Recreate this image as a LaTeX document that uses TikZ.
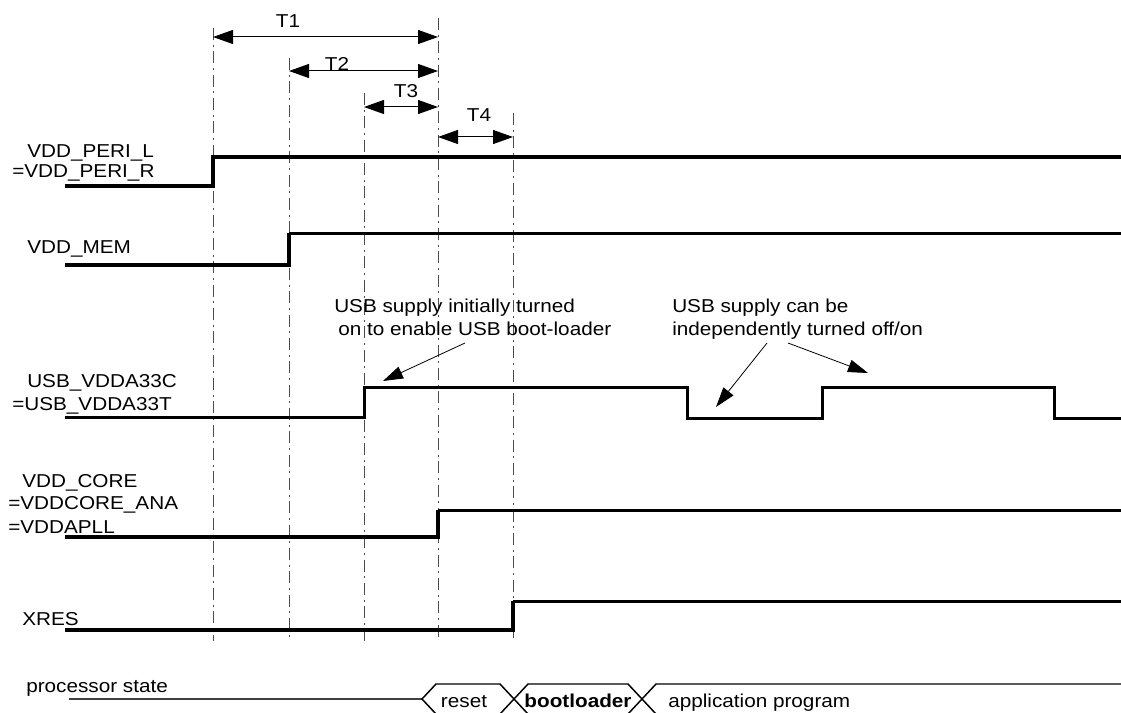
\documentclass[tikz,border=0pt]{standalone}
\usepackage{fontspec}
\setmainfont{Liberation Sans}[FakeStretch=1.11]
\usetikzlibrary{arrows.meta}
\newcommand\lblfont{\fontsize{14pt}{16pt}\selectfont}
\begin{document}
\begin{tikzpicture}[x=0.75pt,y=-0.75pt,
  lbl/.style={inner sep=0pt,anchor=base west,font=\lblfont},
  lblc/.style={inner sep=0pt,anchor=base,font=\lblfont},
  tline/.style={draw=black!70,line width=0.75pt,dash pattern=on 9pt off 3.5pt on 1.5pt off 3.5pt},
  dimarrow/.style={line width=0.75pt,{Triangle[length=15pt,width=10.5pt]}-{Triangle[length=15pt,width=10.5pt]}},
  notearrow/.style={line width=0.6pt,-{Triangle[length=15pt,width=9.5pt]}},
  sigthick/.style={line width=3pt,line join=miter},
  sigthin/.style={line width=2.25pt,line join=miter},
  statebar/.style={line width=1.1pt},
]
\useasboundingbox (0,0) rectangle (1121,713);
\clip (0,0) rectangle (1121,713);
\fill[white] (0,0) rectangle (1121,713);

% time marks
\coordinate (a0) at (213,28);  \coordinate (a1) at (213,641);
\coordinate (b0) at (289,58);  \coordinate (b1) at (289,641);
\coordinate (c0) at (364,93);  \coordinate (c1) at (364,641);
\coordinate (d0) at (438,18);  \coordinate (d1) at (438,641);
\coordinate (e0) at (513,113); \coordinate (e1) at (513,641);
\foreach \p in {a,b,c,d,e} \draw[tline] (\p0) -- (\p1);

% dimension arrows
\coordinate (t1l) at (213,37); \coordinate (t1r) at (438,37);
\coordinate (t2l) at (289,71); \coordinate (t2r) at (438,71);
\coordinate (t3l) at (364,107); \coordinate (t3r) at (438,107);
\coordinate (t4l) at (438,137); \coordinate (t4r) at (513,137);
\draw[dimarrow] (t1l) -- (t1r);
\draw[dimarrow] (t2l) -- (t2r);
\draw[dimarrow] (t3l) -- (t3r);
\draw[dimarrow] (t4l) -- (t4r);
\node[lblc] (T1) at (288,28) {T1};
\node[lblc] (T2) at (337,71) {T2};
\node[lblc] (T3) at (406,98) {T3};
\node[lblc] (T4) at (479,122) {T4};

% signal labels
\node[lbl] (l1a) at (27,158) {VDD\_PERI\_L};
\node[lbl] (l1b) at (12,178) {=VDD\_PERI\_R};
\node[lbl] (l2) at (27,253) {VDD\_MEM};
\node[lbl] (l3a) at (27,387) {USB\_VDDA33C};
\node[lbl] (l3b) at (12,410) {=USB\_VDDA33T};
\node[lbl] (l4a) at (22,487) {VDD\_CORE};
\node[lbl] (l4b) at (8,509) {=VDDCORE\_ANA};
\node[lbl] (l4c) at (8,533) {=VDDAPLL};
\node[lbl] (l5) at (22,625) {XRES};
\node[lbl] (l6) at (26,692) {processor state};

% signals
\draw[sigthick] (65,186) -- (213,186) -- (213,157) -- (1125,157);
\draw[sigthick] (65,265) -- (289,265) -- (289,233);
\draw[sigthin] (289,233) -- (1125,233);
\draw[sigthin] (65,417) -- (364,417) -- (364,387) -- (687,387) -- (687,418) -- (822,418) -- (822,387) -- (1054,387) -- (1054,418) -- (1125,418);
\draw[sigthick] (65,537) -- (438,537) -- (438,510);
\draw[sigthin] (438,510) -- (1125,510);
\draw[sigthick] (65,630) -- (513,630) -- (513,601);
\draw[sigthin] (513,601) -- (1125,601);

% annotations
\node[lbl] (n1a) at (334,312) {USB supply initially turned};
\node[lbl] (n1b) at (338,335) {on to enable USB boot-loader};
\node[lbl] (n2a) at (672,312) {USB supply can be};
\node[lbl] (n2b) at (672,335) {independently turned off/on};
\coordinate (n1s) at (465,343); \coordinate (n1t) at (383,381);
\coordinate (n2s) at (767,343); \coordinate (n2t) at (716,407);
\coordinate (n3s) at (788,343); \coordinate (n3t) at (868,373);
\draw[notearrow] (n1s) -- (n1t);
\draw[notearrow] (n2s) -- (n2t);
\draw[notearrow] (n3s) -- (n3t);

% processor state bar
\coordinate (ps0) at (69,699);
\coordinate (ps1) at (422,699);
\draw[line width=0.9pt,draw=black!75] (ps0) -- (ps1);
\draw[statebar] (436,714) -- (ps1) -- (436,684) -- (500,684) -- (528,714);
\draw[statebar] (500,714) -- (528,684) -- (628,684) -- (656,714);
\draw[statebar] (628,714) -- (656,684) -- (1125,684);
\draw[statebar] (436,714) -- (500,714);
\draw[statebar] (528,714) -- (628,714);
\draw[statebar] (656,714) -- (1125,714);
\node[lblc] (s1) at (464,707) {reset};
\node[lblc] (s2) at (578,707) {\bfseries bootloader};
\node[lbl] (s3) at (668,707) {application program};
\end{tikzpicture}
\end{document}
